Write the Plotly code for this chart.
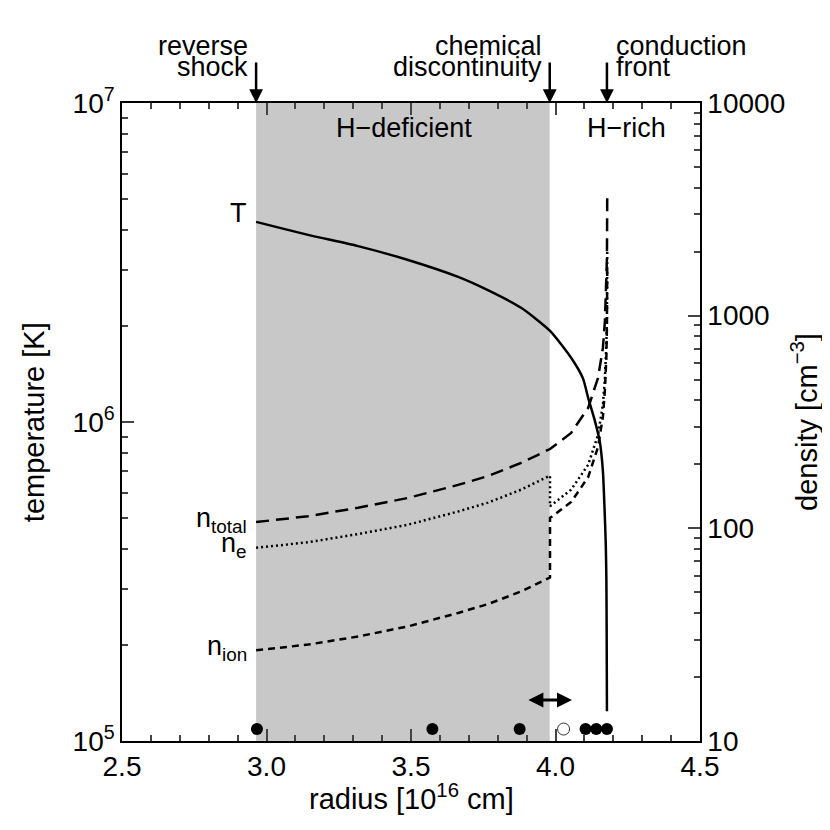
import plotly.graph_objects as go

# radius in units of 1e16 cm
r_T = [2.964, 3.144, 3.317, 3.490, 3.663, 3.766, 3.881, 3.981, 4.054, 4.095, 4.113, 4.136, 4.153, 4.164, 4.170,
       4.174, 4.176, 4.177, 4.178]
temp = [4.24e6, 3.86e6, 3.56e6, 3.22e6, 2.85e6, 2.59e6, 2.28e6, 1.93e6, 1.59e6, 1.37e6, 1.19e6, 1.01e6, 8.71e5,
        7.02e5, 5.26e5, 4.11e5, 3.24e5, 2.26e5, 1.24e5]

r_n = [2.964, 3.144, 3.317, 3.490, 3.663, 3.766, 3.881, 3.981, 3.981, 4.054, 4.113, 4.147, 4.164, 4.171, 4.176, 4.178, 4.179]
n_total = [107, 114, 125, 139, 160, 176, 203, 236, 236, 281, 368, 509, 705, 944, 1350, 1868, 3690]
n_e = [81, 86, 94, 104, 120, 132, 152, 177, 127, 152, 199, 275, 381, 510, 729, 1009, 1990]
n_ion = [26.7, 28.4, 31.0, 34.6, 40.0, 44.0, 50.5, 58.7, 112, 133, 174, 241, 334, 447, 639, 885, 1750]

# positions of the sampled radii (dots along the bottom)
r_filled = [2.967, 3.574, 3.876, 4.104, 4.141, 4.178]
r_open = [4.028]
T_dots = 1.09e5

r_reverse_shock = 2.964
r_chem_disc = 3.980
r_conduction = 4.178
r_disc_err = [3.901, 4.057]

x_ticks = [2.5, 3.0, 3.5, 4.0, 4.5]
x_ticktext = ["2.5", "3.0", "3.5", "4.0", "4.5"]
T_ticks = [1e5, 1e6, 1e7]
T_ticktext = ["10<sup>5</sup>", "10<sup>6</sup>", "10<sup>7</sup>"]
n_ticks = [10, 100, 1000, 10000]
n_ticktext = ["10", "100", "1000", "10000"]

font = dict(family="Liberation Sans, Arial, sans-serif", size=27, color="black")
title_font = dict(family="Liberation Sans, Arial, sans-serif", size=29, color="black")

fig = go.Figure()

fig.add_trace(go.Scatter(x=r_T, y=temp, mode="lines", line=dict(color="black", width=2.5, shape="spline", smoothing=0.6),
                         yaxis="y"))
fig.add_trace(go.Scatter(x=r_n, y=n_total, mode="lines", line=dict(color="black", width=2.5, dash="13px,7px"), yaxis="y2"))
fig.add_trace(go.Scatter(x=r_n, y=n_e, mode="lines", line=dict(color="black", width=2.5, dash="2px,3px"), yaxis="y2"))
fig.add_trace(go.Scatter(x=r_n, y=n_ion, mode="lines", line=dict(color="black", width=2.5, dash="7px,5px"), yaxis="y2"))
fig.add_trace(go.Scatter(x=r_filled, y=[T_dots] * len(r_filled), mode="markers",
                         marker=dict(color="black", size=12), yaxis="y"))
fig.add_trace(go.Scatter(x=r_open, y=[T_dots] * len(r_open), mode="markers",
                         marker=dict(symbol="circle-open", color="#333", size=12, line=dict(width=1)), yaxis="y"))

fig.add_shape(type="rect", xref="x", yref="paper", x0=r_reverse_shock, x1=r_chem_disc, y0=0, y1=1,
              fillcolor="#c8c8c8", line=dict(width=0), layer="below")

ann = []
# arrows above the frame
for xv in [r_reverse_shock, r_chem_disc, r_conduction]:
    ann.append(dict(x=xv, y=1, xref="x", yref="paper", ax=0, ay=-42, text="", showarrow=True,
                    arrowhead=2, arrowsize=1.1, arrowwidth=2.5, arrowcolor="black", standoff=0))
top_labels = [("reverse", r_reverse_shock - 0.02, 1.089, "right"), ("shock", r_reverse_shock - 0.02, 1.056, "right"),
              ("chemical", r_chem_disc - 0.02, 1.089, "right"), ("discontinuity", r_chem_disc - 0.02, 1.056, "right"),
              ("conduction", r_conduction + 0.024, 1.089, "left"), ("front", r_conduction + 0.024, 1.056, "left")]
for txt, xv, yv, anc in top_labels:
    ann.append(dict(x=xv, y=yv, xref="x", yref="paper", text=txt, showarrow=False, xanchor=anc, yanchor="middle"))

ann.append(dict(x=3.477, y=0.961, xref="x", yref="paper", text="H\u2212deficient", showarrow=False,
                xanchor="center", yanchor="middle"))
ann.append(dict(x=4.244, y=0.961, xref="x", yref="paper", text="H\u2212rich", showarrow=False,
                xanchor="center", yanchor="middle"))

# curve labels
ann.append(dict(x=2.939, y=6.655, xref="x", yref="y", text="T", showarrow=False, xanchor="right", yanchor="middle"))
ann.append(dict(x=2.939, y=2.04, xref="x", yref="y2", text="n<sub>total</sub>", showarrow=False, xanchor="right",
                yanchor="middle"))
ann.append(dict(x=2.939, y=1.922, xref="x", yref="y2", text="n<sub>e</sub>", showarrow=False, xanchor="right",
                yanchor="middle"))
ann.append(dict(x=2.939, y=1.438, xref="x", yref="y2", text="n<sub>ion</sub>", showarrow=False, xanchor="right",
                yanchor="middle"))

# uncertainty of the chemical discontinuity
ann.append(dict(x=r_disc_err[1], y=5.1285, ax=r_disc_err[0], ay=5.1285, xref="x", yref="y", axref="x", ayref="y",
                text="", showarrow=True, arrowside="end+start", arrowhead=2, arrowsize=1.0,
                arrowwidth=3, arrowcolor="black", standoff=0, startstandoff=0))

# axis titles (x and left y as annotations for exact placement)
ann.append(dict(x=0.5, y=-0.087, xref="paper", yref="paper", text="radius [10<sup>16</sup> cm]", showarrow=False,
                xanchor="center", yanchor="middle", font=title_font))
ann.append(dict(x=-0.152, y=0.5, xref="paper", yref="paper", text="temperature [K]", textangle=-90, showarrow=False,
                xanchor="center", yanchor="middle", font=title_font))

fig.update_layout(
    width=830, height=830,
    margin=dict(l=114, r=138, t=95, b=97),
    paper_bgcolor="white", plot_bgcolor="white",
    font=font, showlegend=False,
    annotations=ann,
    xaxis=dict(range=[2.5, 4.5], tickvals=x_ticks, ticktext=x_ticktext, ticks="inside", ticklen=12, tickwidth=1.5,
               minor=dict(ticks="inside", ticklen=6, dtick=0.1, tickwidth=1.5, tick0=2.5),
               showline=True, linewidth=1.5, linecolor="black", mirror="ticks", showgrid=False, zeroline=False,
               ticklabelstandoff=0, automargin=False, tickfont=dict(size=28)),
    yaxis=dict(type="log", range=[5, 7], tickvals=T_ticks, ticktext=T_ticktext, ticks="inside", ticklen=12, tickwidth=1.5,
               minor=dict(ticks="inside", ticklen=6, tickwidth=1.5,
                          tickvals=[k * 10 ** e for e in range(5, 7) for k in range(2, 10)]),
               showline=True, linewidth=1.5, linecolor="black", showgrid=False, zeroline=False,
               automargin=False, tickfont=dict(size=28)),
    yaxis2=dict(type="log", range=[1, 4], overlaying="y", side="right", tickvals=n_ticks, ticktext=n_ticktext,
                ticks="inside", ticklen=12, tickwidth=1.5,
                minor=dict(ticks="inside", ticklen=6, tickwidth=1.5,
                           tickvals=[k * 10 ** e for e in range(1, 4) for k in range(2, 10)]),
                showline=True, linewidth=1.5, linecolor="black", showgrid=False, zeroline=False,
                automargin=False, tickfont=dict(size=28),
                title=dict(text="density [cm<sup>\u22123</sup>]", standoff=12, font=title_font)),
)

fig.write_html("out.html")
